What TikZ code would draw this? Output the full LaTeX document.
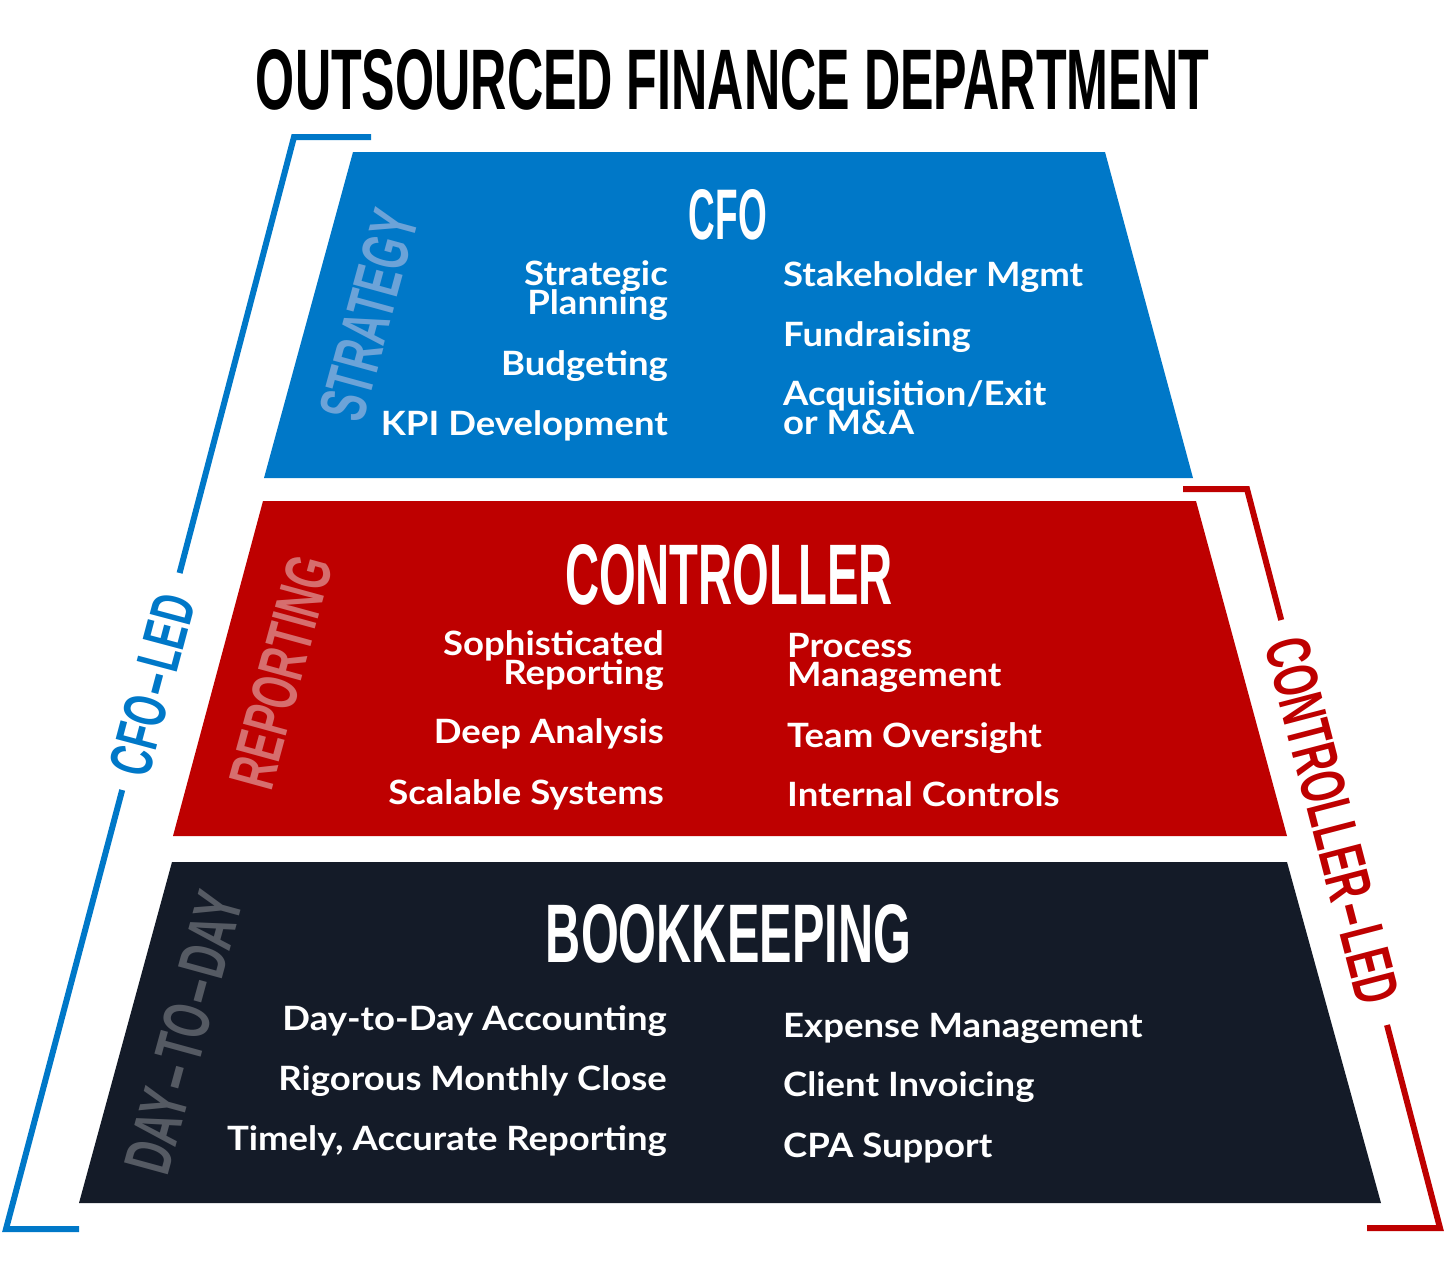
\documentclass[tikz,border=0pt]{standalone}
\usepackage{fontspec}
\setmainfont{Lato}[FakeStretch=1.09]
\newfontfamily\condfont{Liberation Sans}
\definecolor{cfoblue}{RGB}{0,120,200}
\definecolor{ctlred}{RGB}{190,0,0}
\definecolor{bkdark}{RGB}{20,27,40}
\definecolor{stratcol}{RGB}{108,163,216}
\definecolor{repcol}{RGB}{214,110,110}
\definecolor{daycol}{RGB}{85,90,99}
\newcommand\tworight[2]{\vtop{\baselineskip=29.5pt\lineskiplimit=-100pt\halign{\hfil##\cr#1\cr#2\cr}}}
\newcommand\twoleft[2]{\vtop{\baselineskip=29.5pt\lineskiplimit=-100pt\halign{##\hfil\cr#1\cr#2\cr}}}
\newcommand\condtext[3]{\resizebox{#1pt}{#2pt}{\condfont\bfseries #3}}
\newcommand\hy{\kern0.4pt\scalebox{2}[1]{-}\kern0.4pt}
\tikzset{
  item/.style={text=white, inner sep=0pt, font=\fontsize{33.5}{33.5}\selectfont\bfseries},
  litem/.style={item, anchor=base east},
  ritem/.style={item, anchor=base west},
  head/.style={inner sep=0pt, text=white},
  sidelabel/.style={inner sep=0pt, rotate=74.7},
  bracket/.style={line width=6pt, line cap=butt, line join=miter},
}
\begin{document}
\begin{tikzpicture}[x=1pt,y=-1pt]
\useasboundingbox[fill=white] (0,0) rectangle (1451,1280);

% title
\node[inner sep=0pt] (title) at (732.5,80) {\condtext{953}{60}{OUTSOURCED FINANCE DEPARTMENT}};

% tiers
\fill[cfoblue] (353,152) -- (1105,152) -- (1193,478) -- (264,478) -- cycle;
\fill[ctlred] (263,501) -- (1196,501) -- (1287,836) -- (173,836) -- cycle;
\fill[bkdark] (172,862) -- (1287,862) -- (1381,1203) -- (79,1203) -- cycle;

% side labels inside tiers
\node[sidelabel, text=stratcol] (strategy) at (369,315.5) {\condtext{214}{46}{STRATEGY}};
\node[sidelabel, text=repcol] (reporting) at (281,672) {\condtext{237}{45}{REPORTING}};
\node[sidelabel, text=daycol] (daytoday) at (184,1033) {\condtext{288}{46}{DAY\hy TO\hy DAY}};

% headings
\node[head] (cfo) at (728,215) {\condtext{78}{50}{CFO}};
\node[head] (controller) at (729,575) {\condtext{328}{60}{CONTROLLER}};
\node[head] (bookkeeping) at (728.5,934) {\condtext{365}{58}{BOOKKEEPING}};

% CFO items
\node[litem] (sp) at (668,285) {\tworight{Strategic}{Planning}};
\node[litem] (bud) at (668,375) {Budgeting};
\node[litem] (kpi) at (668,435) {KPI Development};
\node[ritem] (stake) at (783,286) {Stakeholder Mgmt};
\node[ritem] (fund) at (783,346) {Fundraising};
\node[ritem] (acq) at (783,405) {\twoleft{Acquisition/Exit}{or M\&A}};

% Controller items
\node[litem] (soph) at (664,655) {\tworight{Sophisticated}{Reporting}};
\node[litem] (deep) at (664,743) {Deep Analysis};
\node[litem] (scal) at (664,804) {Scalable Systems};
\node[ritem] (proc) at (787,657) {\twoleft{Process}{Management}};
\node[ritem] (team) at (787,747) {Team Oversight};
\node[ritem] (intc) at (787,806) {Internal Controls};

% Bookkeeping items
\node[litem] (dtd) at (667,1030) {Day-to-Day Accounting};
\node[litem] (rmc) at (667,1090) {Rigorous Monthly Close};
\node[litem] (tar) at (667,1150) {Timely, Accurate Reporting};
\node[ritem] (expm) at (783,1037) {Expense Management};
\node[ritem] (inv) at (783,1096) {Client Invoicing};
\node[ritem] (cpa) at (783,1157) {CPA Support};

% CFO-led bracket
\coordinate (b1) at (371,137);
\coordinate (b2) at (294,137);
\coordinate (b3) at (179.6,573);
\coordinate (b4) at (122.2,790);
\coordinate (b5) at (6,1229);
\coordinate (b6) at (79,1229);
\draw[bracket, cfoblue] (b1) -- (b2) -- (b3);
\draw[bracket, cfoblue] (b4) -- (b5) -- (b6);
\node[inner sep=0pt, rotate=75.1, text=cfoblue] (cfoled) at (152.5,685) {\condtext{184}{42}{CFO\hy LED}};

% Controller-led bracket
\coordinate (r1) at (1183,489);
\coordinate (r2) at (1247,489);
\coordinate (r3) at (1281.2,620);
\coordinate (r4) at (1387,1025);
\coordinate (r5) at (1440,1228);
\coordinate (r6) at (1367,1228);
\draw[bracket, ctlred] (r1) -- (r2) -- (r3);
\draw[bracket, ctlred] (r4) -- (r5) -- (r6);
\node[inner sep=0pt, rotate=-75.4, text=ctlred] (ctlled) at (1332.5,820.5) {\condtext{376}{44}{CONTROLLER\hy LED}};
\end{tikzpicture}
\end{document}
